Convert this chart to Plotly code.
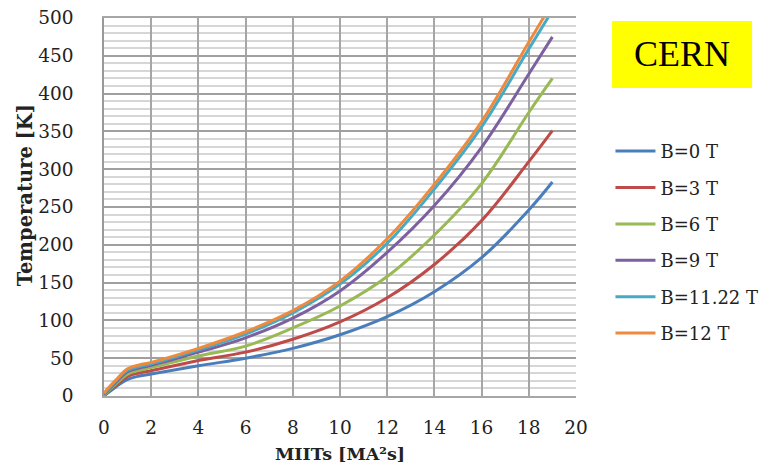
import plotly.graph_objects as go

miits = [0, 0.5, 1, 1.5, 2, 4, 6, 8, 10, 12, 14, 16, 18, 19]
series_names = ["B=0 T", "B=3 T", "B=6 T", "B=9 T", "B=11.22 T", "B=12 T"]
temp_b0 = [0, 12, 22, 26.5, 29, 40, 50, 63, 81, 105, 138, 183, 246, 283]
temp_b3 = [1, 14, 26, 30.5, 33.5, 47, 58, 75, 98, 130, 174, 232, 310, 351]
temp_b6 = [1, 16, 29, 34, 37.5, 53, 66, 90, 119, 158, 213, 281, 375, 420]
temp_b9 = [2, 18, 32, 37, 40.5, 58, 77, 103, 139, 190, 252, 329, 426, 475]
temp_b1122 = [3, 20, 34, 39, 42.5, 61, 82, 110, 148, 202, 274, 356, 459, 510]
temp_b12 = [4, 21, 36, 41, 44.5, 63, 85, 113, 152, 208, 280, 363, 468, 520]
series_values = [temp_b0, temp_b3, temp_b6, temp_b9, temp_b1122, temp_b12]
colors = ["#4A7EBB", "#BE4B48", "#98B954", "#7D60A0", "#46AAC5", "#EE8A3E"]

x_ticks = list(range(0, 21, 2))
y_ticks = list(range(0, 501, 50))

fig = go.Figure()
for name, vals, col in zip(series_names, series_values, colors):
    fig.add_trace(go.Scatter(
        x=miits, y=vals, name=name, mode="lines",
        line=dict(color=col, width=3, shape="spline", smoothing=1.1),
        legendgroup=name,
    ))

font_main = "DejaVu Serif"

fig.update_layout(
    width=771, height=465,
    margin=dict(l=96, r=203, t=10, b=77),
    paper_bgcolor="white", plot_bgcolor="white",
    showlegend=True,
    legend=dict(
        x=1.073, y=0.696, xanchor="left", yanchor="top",
        font=dict(family=font_main, size=18, color="#222"),
        tracegroupgap=10, itemwidth=40, bgcolor="rgba(0,0,0,0)",
    ),
    xaxis=dict(
        range=[0, 20], tickvals=x_ticks, ticktext=[str(v) for v in x_ticks],
        showgrid=True, gridcolor="#A6A6A6", gridwidth=1.5,
        zeroline=False, showline=True, mirror=True, linecolor="#A6A6A6", linewidth=1.5,
        ticks="", automargin=False, ticklabeloverflow="allow",
        tickfont=dict(family=font_main, size=18.5, color="#222"),
        ticklabelstandoff=14,
    ),
    yaxis=dict(
        range=[0, 500], tickvals=y_ticks, ticktext=[str(v) for v in y_ticks],
        showgrid=True, gridcolor="#A0A0A0", gridwidth=1.5,
        minor=dict(dtick=10, showgrid=True, gridcolor="#D6D6D6", gridwidth=1.5),
        zeroline=False, showline=True, linecolor="#999999", linewidth=1.5, ticks="",
        automargin=False, ticklabeloverflow="allow",
        tickfont=dict(family=font_main, size=18.5, color="#222"),
        ticklabelstandoff=25,
    ),
    shapes=[dict(type="rect", xref="paper", yref="paper",
                 x0=1.0764, x1=1.373, y0=0.815, y1=0.992,
                 fillcolor="#FFFF00", line=dict(width=0), layer="below")],
    annotations=[
        dict(text="CERN", xref="paper", yref="paper",
             x=1.2247, y=0.9035, xanchor="center", yanchor="middle",
             showarrow=False,
             font=dict(family="Liberation Serif", size=36, color="black")),
        dict(text="<b>MIITs [MA²s]</b>", xref="paper", yref="paper",
             x=0.5, y=-0.1534, xanchor="center", yanchor="middle", showarrow=False,
             font=dict(family=font_main, size=17.5, color="#222")),
        dict(text="<b>Temperature [K]</b>", xref="paper", yref="paper",
             x=-0.1644, y=0.532, xanchor="center", yanchor="middle", showarrow=False,
             textangle=-90,
             font=dict(family=font_main, size=19.5, color="#222")),
    ],
)

fig.write_html("out.html")
